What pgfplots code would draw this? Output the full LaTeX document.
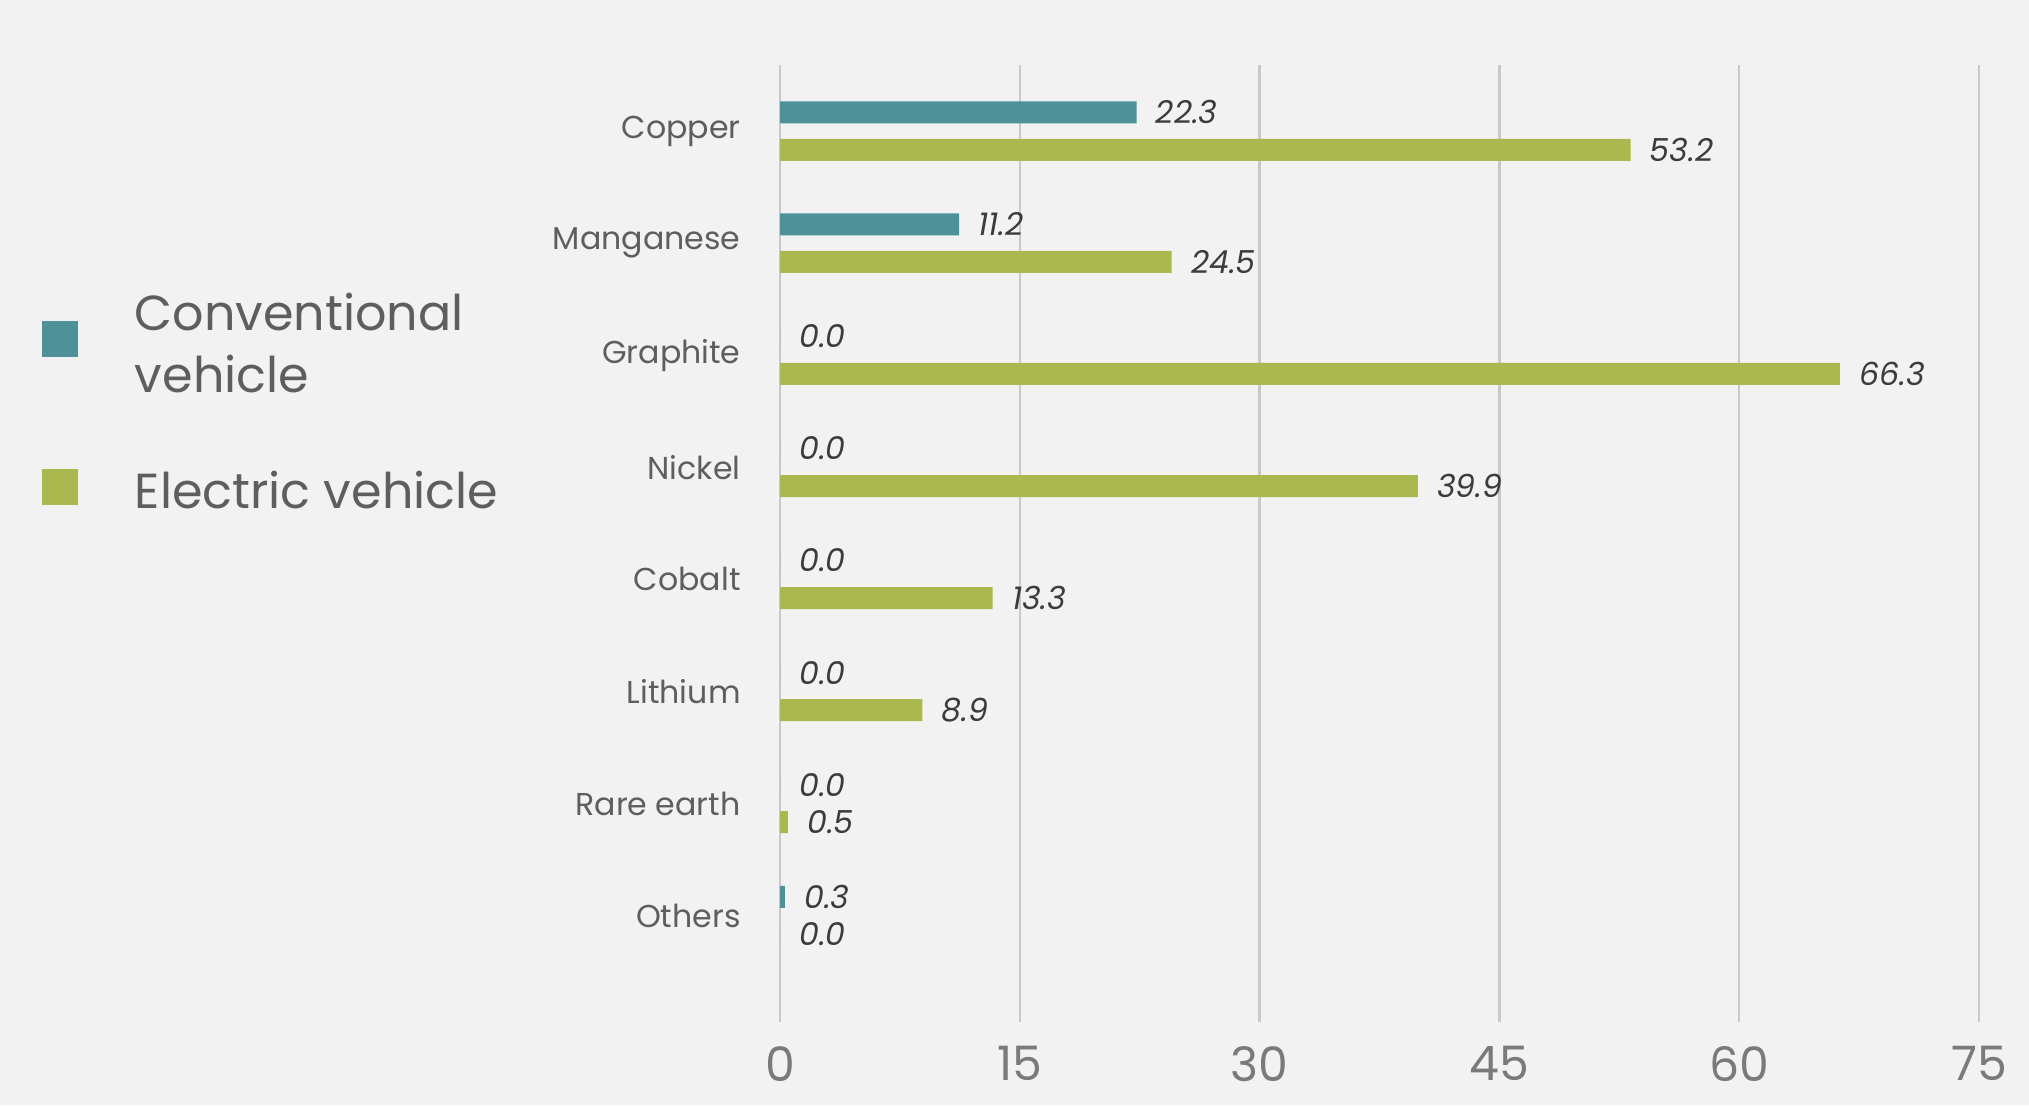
\documentclass[border=0pt]{standalone}
\usepackage{pgfplots}
\pgfplotsset{compat=1.18}
\usepackage{fontspec}
\setmainfont{Poppins}
\definecolor{bg}{HTML}{F2F2F2}
\definecolor{teal1}{HTML}{4E9198}
\definecolor{olive1}{HTML}{AAB84F}
\definecolor{gridc}{HTML}{C9C9C9}
\definecolor{lab}{HTML}{5E5E5E}
\definecolor{val}{HTML}{3C3C3C}
\definecolor{tick}{HTML}{7A7A7A}
\begin{document}
\begin{tikzpicture}
\path[use as bounding box, fill=bg] (0,0) rectangle (20.29,11.05);
\begin{axis}[
  at={(7.80cm,0.83cm)}, anchor=south west,
  scale only axis, width=11.99cm, height=9.57cm,
  xmin=0, xmax=75, ymin=-0.95, ymax=7.59,
  xtick={0,15,30,45,60,75},
  ytick={0,1,2,3,4,5,6,7},
  yticklabels={Others,Rare earth,Lithium,Cobalt,Nickel,Graphite,Manganese,Copper},
  axis line style={draw=none},
  major tick length=0pt,
  xmajorgrids, grid style={draw=gridc, line width=0.7pt},
  /pgf/number format/assume math mode=true,
  xticklabel style={font=\fontsize{13.5}{15}\selectfont, text=tick, yshift=-0.12cm},
  yticklabel style={font=\fontsize{9}{11}\selectfont, text=lab, xshift=-0.27cm},
  xbar, bar width=0.22cm,
  nodes near coords,
  nodes near coords style={font=\fontsize{9}{11}\selectfont\itshape, text=val, anchor=west, xshift=0.07cm,
    /pgf/number format/fixed, /pgf/number format/fixed zerofill, /pgf/number format/precision=1},
  legend cell align=left,
  legend style={at={(axis description cs:-0.625,0.777)}, anchor=north west, draw=none, fill=none,
    font=\fontsize{14}{17.5}\selectfont, text=lab, cells={align=left}, row sep=17pt, column sep=0.5cm},
  legend image code/.code={\fill[#1, draw=none] (0cm,-0.12cm) rectangle (0.36cm,0.24cm);},
]
\addplot[fill=teal1, draw=none, bar shift=0.1875cm] coordinates {
  (22.3,7) (11.2,6) (0,5) (0,4) (0,3) (0,2) (0,1) (0.3,0)};
\addplot[fill=olive1, draw=none, bar shift=-0.1875cm] coordinates {
  (53.2,7) (24.5,6) (66.3,5) (39.9,4) (13.3,3) (8.9,2) (0.5,1) (0,0)};
\legend{{Conventional\\vehicle},{Electric vehicle}}
\end{axis}
\end{tikzpicture}
\end{document}
